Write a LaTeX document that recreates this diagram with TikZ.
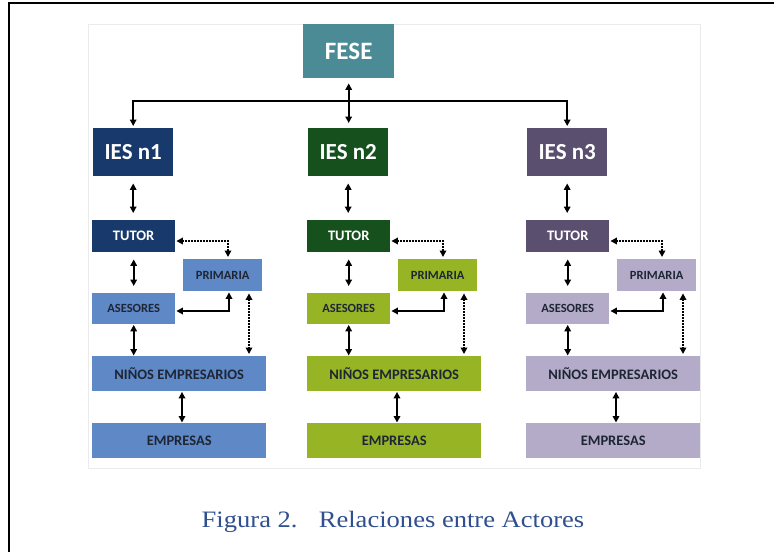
\documentclass[tikz,border=0pt]{standalone}
\usepackage{fontspec}
\setmainfont{Liberation Serif}
\newfontfamily\calfont{Carlito}
\usetikzlibrary{arrows.meta,calc}
\definecolor{fesec}{HTML}{4A8B96}
\definecolor{cAd}{HTML}{17396B}
\definecolor{cAl}{HTML}{5E88C6}
\definecolor{cBd}{HTML}{16501C}
\definecolor{cBl}{HTML}{96B423}
\definecolor{cCd}{HTML}{5B4F70}
\definecolor{cCl}{HTML}{B3ABC8}
\definecolor{dtext}{HTML}{1E2636}
\definecolor{capblue}{HTML}{2F4F8F}
\tikzset{
  box/.style={rectangle, inner sep=0pt, anchor=north west, font=\calfont\bfseries},
  tipA/.tip={Triangle[length=6.5pt,width=6.5pt]},
  arr/.style={line width=1.7pt, tipA-tipA},
  dotarr/.style={line width=1.7pt, tipA-tipA, dash pattern=on 1.7pt off 1.3pt},
  big/.style={font=\calfont\bfseries\fontsize{23}{23}\selectfont, text=white},
  mid/.style={font=\calfont\bfseries\fontsize{14.5}{15}\selectfont},
  sml/.style={font=\calfont\bfseries\fontsize{12.5}{13}\selectfont},
}
\begin{document}
\begin{tikzpicture}[x=1pt,y=-1pt]
\useasboundingbox (0,0) rectangle (774,552);
\fill[white] (0,0) rectangle (774,552);
% outer frame (partly visible)
\draw[line width=1.2pt] (9,552) -- (9,3) -- (774,3);
% faint frame of embedded picture
\draw[black!8, line width=0.8pt] (88,24) rectangle (700,468);

% FESE
\node[box, fill=fesec, minimum width=91pt, minimum height=54pt, big, font=\calfont\bfseries\fontsize{25}{25}\selectfont] (fese) at (303,24) {FESE};

\foreach \i/\L/\dk/\lt in {1/92/cAd/cAl, 2/307/cBd/cBl, 3/526/cCd/cCl}{
  \node[box, fill=\dk, minimum width=80pt, minimum height=48pt, big] (ies\i) at ({\L+1},128) {IES n\i};
  \node[box, fill=\dk, minimum width=83pt, minimum height=32pt, mid, text=white] (tutor\i) at (\L,220) {TUTOR};
  \node[box, fill=\lt, minimum width=79pt, minimum height=32pt, sml, text=dtext] (prim\i) at ({\L+91},259) {PRIMARIA};
  \node[box, fill=\lt, minimum width=83pt, minimum height=31pt, sml, text=dtext] (ases\i) at (\L,293) {ASESORES};
  \node[box, fill=\lt, minimum width=174pt, minimum height=35pt, mid, text=dtext] (ninos\i) at (\L,356) {NIÑOS EMPRESARIOS};
  \node[box, fill=\lt, minimum width=174pt, minimum height=35pt, mid, text=dtext] (emp\i) at (\L,423) {EMPRESAS};
  \coordinate (dc\i) at ({\L+136},241);
  \coordinate (sc\i) at ({\L+137},311);
  \coordinate (dv\i) at ({\L+157},300);
  \coordinate (ne\i) at ({\L+90},400);
  % connectors
  \draw[arr, shorten <=7pt, shorten >=7pt] (ies\i.south) -- (ies\i.south |- tutor\i.north);
  \draw[arr, shorten <=7pt, shorten >=7pt] (tutor\i.south) -- (tutor\i.south |- ases\i.north);
  \draw[arr, shorten <=0.5pt, shorten >=0.5pt] (ases\i.south) -- (ases\i.south |- ninos\i.north);
  \draw[arr, shorten <=0.5pt, shorten >=0.5pt] (ne\i |- ninos\i.south) -- (ne\i |- emp\i.north);
  \draw[dotarr, shorten <=2pt, shorten >=1pt] (dc\i |- prim\i.north) -- (dc\i) -- (tutor\i.east |- dc\i);
  \draw[arr, shorten <=1pt, shorten >=1pt] (sc\i |- prim\i.south) -- (sc\i) -- (ases\i.east |- sc\i);
  \draw[dotarr, shorten <=2pt, shorten >=2pt] (dv\i |- prim\i.south) -- (dv\i |- ninos\i.north);
}

% top connectors
\coordinate (hl) at (348,101);
\draw[arr, shorten <=5pt, shorten >=5pt] (fese.south) -- (fese.south |- ies2.north);
\draw[line width=1.7pt, -tipA, shorten >=2pt] (hl) -- (ies1.north |- hl) -- (ies1.north);
\draw[line width=1.7pt, -tipA, shorten >=2pt] (hl) -- (ies3.north |- hl) -- (ies3.north);

% caption
\node[anchor=base, text=capblue, font=\fontsize{23.5}{24}\selectfont, inner sep=0pt] (cap) at (393,527)
  {\scalebox{1.13}[1]{Figura 2.\hspace{0.8em}Relaciones entre Actores}};
\end{tikzpicture}
\end{document}
